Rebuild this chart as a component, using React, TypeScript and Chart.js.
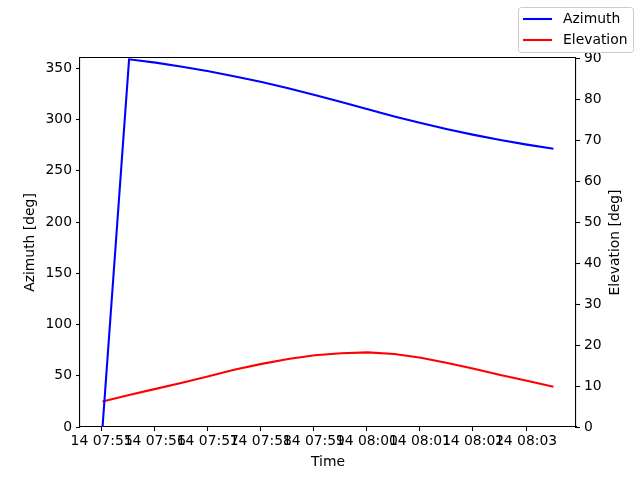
import React, { useEffect, useRef } from 'react';
import { Chart, registerables } from 'chart.js';

Chart.register(...registerables);

// sample times (30 s steps) and readings
const timeLabels = [
    '07:55:01', '07:55:31', '07:56:01', '07:56:31', '07:57:01', '07:57:31',
    '07:58:01', '07:58:31', '07:59:01', '07:59:31', '08:00:01', '08:00:31',
    '08:01:01', '08:01:31', '08:02:01', '08:02:31', '08:03:01', '08:03:31',
];
const azimuth = [0, 358.7, 355.5, 351.5, 347, 342, 336.5, 330.5, 324, 317, 310, 303, 296.5, 290.5, 285, 280, 275.5, 271.5];
const elevation = [6.2, 7.8, 9.3, 10.8, 12.4, 14.0, 15.4, 16.6, 17.5, 18.0, 18.2, 17.8, 16.9, 15.6, 14.2, 12.7, 11.3, 9.8];

const xTickLabels = ['14 07:55', '14 07:56', '14 07:57', '14 07:58', '14 07:59', '14 08:00', '14 08:01', '14 08:02', '14 08:03'];
const xTickMinutes = [0, 1, 2, 3, 4, 5, 6, 7, 8];
const azimuthTicks = [0, 50, 100, 150, 200, 250, 300, 350];
const elevationTicks = [0, 10, 20, 30, 40, 50, 60, 70, 80, 90];

const FONT = 'DejaVu Sans';
const FS = 13.9;

// minutes after 07:55:00
const toMinutes = (t: string) => {
    const [h, m, s] = t.split(':').map(Number);
    return (h * 60 + m + s / 60) - (7 * 60 + 55);
};

const overlay = {
    id: 'overlay',
    afterDraw(chart: any) {
        const { ctx, chartArea } = chart;
        const { left, right, top, bottom } = chartArea;
        ctx.save();
        // top spine
        ctx.strokeStyle = '#000';
        ctx.lineWidth = 1;
        ctx.beginPath();
        ctx.moveTo(left, Math.round(top) - 0.5);
        ctx.lineTo(right, Math.round(top) - 0.5);
        ctx.stroke();

        ctx.fillStyle = '#000';
        ctx.font = `${FS}px "${FONT}"`;
        ctx.textAlign = 'center';
        ctx.textBaseline = 'middle';
        ctx.fillText('Time', (left + right) / 2, 462);

        const midY = (top + bottom) / 2;
        ctx.save();
        ctx.translate(30, midY);
        ctx.rotate(-Math.PI / 2);
        ctx.fillText('Azimuth [deg]', 0, 0);
        ctx.restore();
        ctx.save();
        ctx.translate(615, midY);
        ctx.rotate(-Math.PI / 2);
        ctx.fillText('Elevation [deg]', 0, 0);
        ctx.restore();

        // legend box
        const bx = 518.5, by = 7.5, bw = 115, bh = 45, r = 3;
        ctx.beginPath();
        ctx.moveTo(bx + r, by);
        ctx.arcTo(bx + bw, by, bx + bw, by + bh, r);
        ctx.arcTo(bx + bw, by + bh, bx, by + bh, r);
        ctx.arcTo(bx, by + bh, bx, by, r);
        ctx.arcTo(bx, by, bx + bw, by, r);
        ctx.closePath();
        ctx.fillStyle = 'rgba(255,255,255,0.8)';
        ctx.fill();
        ctx.strokeStyle = '#cccccc';
        ctx.lineWidth = 1;
        ctx.stroke();

        const items = [
            { label: 'Azimuth', color: '#0000ff', y: 19 },
            { label: 'Elevation', color: '#ff0000', y: 40 },
        ];
        ctx.textAlign = 'left';
        for (const it of items) {
            ctx.strokeStyle = it.color;
            ctx.lineWidth = 2.08;
            ctx.beginPath();
            ctx.moveTo(523, it.y);
            ctx.lineTo(552, it.y);
            ctx.stroke();
            ctx.fillStyle = '#000';
            ctx.fillText(it.label, 563, it.y);
        }
        ctx.restore();
    },
};

const axisStyle = {
    border: { display: true, color: '#000', width: 1.1 },
    grid: { drawOnChartArea: false, color: '#000', tickLength: 4, tickWidth: 1.1 },
};

const App: React.FC = () => {
    const canvasRef = useRef<HTMLCanvasElement>(null);

    useEffect(() => {
        if (!canvasRef.current) return;
        const ctx = canvasRef.current.getContext('2d');
        if (!ctx) return;

        const xs = timeLabels.map(toMinutes);
        const span = xs[xs.length - 1] - xs[0];

        const chart = new Chart(ctx, {
            type: 'line',
            data: {
                datasets: [
                    {
                        label: 'Azimuth',
                        data: xs.map((x, i) => ({ x, y: azimuth[i] })),
                        borderColor: '#0000ff',
                        borderWidth: 2.08,
                        pointRadius: 0,
                        tension: 0,
                        yAxisID: 'yA',
                    },
                    {
                        label: 'Elevation',
                        data: xs.map((x, i) => ({ x, y: elevation[i] })),
                        borderColor: '#ff0000',
                        borderWidth: 2.08,
                        pointRadius: 0,
                        tension: 0,
                        yAxisID: 'yE',
                    },
                ],
            },
            options: {
                responsive: false,
                animation: false,
                layout: { padding: { top: 58, left: 0, right: 0, bottom: 0 } },
                plugins: { legend: { display: false }, tooltip: { enabled: false } },
                font: { family: FONT, size: FS },
                scales: {
                    x: {
                        type: 'linear',
                        position: 'bottom',
                        min: xs[0] - span * 0.05,
                        max: xs[xs.length - 1] + span * 0.05,
                        ...axisStyle,
                        afterBuildTicks: (s: any) => { s.ticks = xTickMinutes.map(v => ({ value: v })); },
                        afterFit: (s: any) => { s.height = 53; },
                        ticks: {
                            autoSkip: false,
                            maxRotation: 0,
                            padding: 2,
                            color: '#000',
                            font: { family: FONT, size: FS },
                            callback: (_v: any, i: number) => xTickLabels[i],
                        },
                    },
                    yA: {
                        type: 'linear',
                        position: 'left',
                        min: 0,
                        max: 360,
                        ...axisStyle,
                        afterBuildTicks: (s: any) => { s.ticks = azimuthTicks.map(v => ({ value: v })); },
                        afterFit: (s: any) => { s.width = 80; },
                        ticks: { color: '#000', padding: 4, font: { family: FONT, size: FS } },
                    },
                    yE: {
                        type: 'linear',
                        position: 'right',
                        min: 0,
                        max: 90,
                        ...axisStyle,
                        afterBuildTicks: (s: any) => { s.ticks = elevationTicks.map(v => ({ value: v })); },
                        afterFit: (s: any) => { s.width = 64; },
                        ticks: { color: '#000', padding: 4, font: { family: FONT, size: FS } },
                    },
                },
            },
            plugins: [overlay],
        });

        return () => {
            chart.destroy();
        };
    }, []);

    return (
        <div style={{ position: 'absolute', left: 0, top: 0, width: 640, height: 480, background: '#fff' }}>
            <canvas ref={canvasRef} width={640} height={480}></canvas>
        </div>
    );
};

export default App;
